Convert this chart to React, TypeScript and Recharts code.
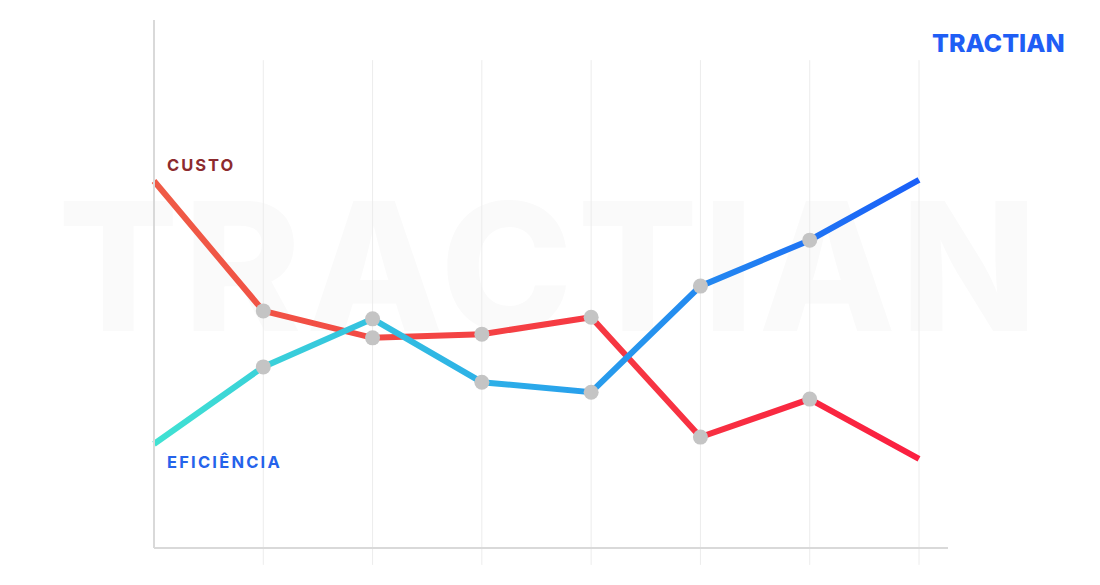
import React from 'react'
import { LineChart, Line, XAxis, YAxis, ReferenceLine } from 'recharts'

// posições no eixo x (sem rótulos no original)
const categories = ['1', '2', '3', '4', '5', '6', '7', '8']
const custo = [69.5, 44.9, 39.8, 40.5, 43.7, 21.0, 28.2, 16.9]
const eficiencia = [19.7, 34.3, 43.4, 31.4, 29.5, 49.6, 58.3, 69.7]

const data = categories.map((c, i) => ({ c, custo: custo[i], eficiencia: eficiencia[i] }))

const GreyDot = (props: any) => {
  const { cx, cy, index } = props
  if (index === 0 || index === categories.length - 1) return <g key={index} />
  return <circle key={index} cx={cx} cy={cy} r={7.5} fill="#c4c4c4" />
}

const App: React.FC = () => {
  return (
    <div style={{ position: 'absolute', left: 0, top: 0, width: 1100, height: 585, background: '#fff', fontFamily: 'Inter, sans-serif' }}>
      {/* marca d'água */}
      <svg width={1100} height={585} style={{ position: 'absolute', left: 0, top: 0 }}>
        <text x={550} y={331} textAnchor="middle" fontSize={178} fontWeight={800} fill="#fafafa" letterSpacing={5}>
          TRACTIAN
        </text>
      </svg>
      <div style={{ position: 'absolute', left: 0, top: 0 }}>
        <LineChart width={1100} height={585} data={data} margin={{ top: 20, right: 152, bottom: 36, left: 153 }}>
          <defs>
            <linearGradient id="gCusto" x1="0" y1="0" x2="1" y2="0">
              <stop offset="0%" stopColor="#ef5b46" />
              <stop offset="100%" stopColor="#fb1f40" />
            </linearGradient>
            <linearGradient id="gEfic" x1="0" y1="0" x2="1" y2="0">
              <stop offset="0%" stopColor="#40e2d2" />
              <stop offset="50%" stopColor="#2aa8ea" />
              <stop offset="100%" stopColor="#1a5ff8" />
            </linearGradient>
          </defs>
          <XAxis dataKey="c" height={1} tick={false} tickLine={false} axisLine={{ stroke: '#d9d9d9', strokeWidth: 2 }} padding={{ left: 0, right: 29 }} />
          <YAxis width={1} domain={[0, 100]} tick={false} tickLine={false} axisLine={{ stroke: '#d9d9d9', strokeWidth: 2 }} />
          {categories.slice(1).map((c) => (
            <ReferenceLine
              key={c}
              segment={[{ x: c, y: 92.4 }, { x: c, y: -3.2 }]}
              stroke="#ececec"
              strokeWidth={1}
              ifOverflow="visible"
            />
          ))}
          <Line type="linear" dataKey="custo" stroke="url(#gCusto)" strokeWidth={6} dot={<GreyDot />} activeDot={false} isAnimationActive={false} />
          <Line type="linear" dataKey="eficiencia" stroke="url(#gEfic)" strokeWidth={6} dot={<GreyDot />} activeDot={false} isAnimationActive={false} />
        </LineChart>
      </div>
      <div style={{ position: 'absolute', left: 167, top: 155, fontSize: 16.5, fontWeight: 700, color: '#8c2a2e', letterSpacing: 2 }}>CUSTO</div>
      <div style={{ position: 'absolute', left: 167, top: 452, fontSize: 16.5, fontWeight: 700, color: '#2563eb', letterSpacing: 2.2 }}>EFICIÊNCIA</div>
      <div style={{ position: 'absolute', left: 932, top: 28, fontSize: 25, fontWeight: 800, color: '#1f5ef5', letterSpacing: 0 }}>TRACTIAN</div>
    </div>
  )
}

export default App
